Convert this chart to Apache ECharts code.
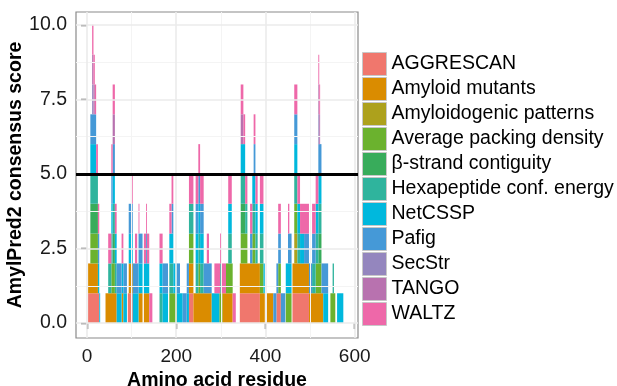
<!DOCTYPE html>
<html><head><meta charset="utf-8">
<script src="https://cdn.jsdelivr.net/npm/echarts@6/dist/echarts.min.js"></script>
<style>html,body{margin:0;padding:0;background:#fff}#c{width:617px;height:386px}</style>
</head><body><div id="c"></div>
<script>
// Predictor names (stack order bottom -> top)
const predictors = ["AGGRESCAN","Amyloid mutants","Amyloidogenic patterns","Average packing density","\u03b2-strand contiguity","Hexapeptide conf. energy","NetCSSP","Pafig","SecStr","TANGO","WALTZ"];
const colors = ["#F0776D","#DA8C00","#ADA11C","#6BB22E","#38AC5B","#2FB49D","#00B8DD","#4599D7","#9486BE","#B872AF","#EE68A9"];
// Residue ranges [start, end) predicted amyloidogenic by each method
const AGGRESCAN = [[3,28],[92,103],[229,239],[343,388],[425,435],[461,498]];
const AMYLOID_MUTANTS = [[3,25],[42,67],[78,82],[94,103],[116,125],[128,140],[229,280],[304,327],[343,399],[404,418],[461,530]];
const AMYLOIDOGENIC_PATTERNS = [[465,472]];
const AVG_PACKING = [[8,25],[55,63],[185,202],[229,239],[250,254],[297,304],[312,327],[345,360],[371,378],[388,396],[429,435],[446,459],[465,472],[513,526],[546,557]];
const BETA_STRAND = [[8,25],[58,63],[345,355],[519,526]];
const HEXAPEPTIDE = [[8,25],[48,67],[163,170],[185,194],[229,239],[244,262],[299,301],[317,325],[345,360],[371,383],[388,396],[465,478],[505,526],[551,554]];
const NETCSSP = [[8,21],[25,30],[55,90],[94,125],[128,140],[163,182],[185,215],[224,229],[244,262],[280,297],[317,325],[345,355],[371,383],[388,399],[446,459],[465,487],[513,526],[530,541],[561,575]];
const PAFIG = [[8,21],[25,28],[55,63],[67,78],[82,90],[94,125],[133,135],[170,182],[190,194],[202,209],[215,229],[244,280],[366,371],[374,378],[418,445],[451,459],[465,472],[487,513],[519,541]];
const SECSTR = [[12,15],[519,521]];
const TANGO = [[12,18],[58,63],[345,351],[519,523]];
const WALTZ = [[12,28],[48,67],[78,82],[99,103],[108,113],[116,118],[128,147],[163,170],[185,194],[229,239],[244,262],[269,274],[286,312],[317,325],[327,334],[345,360],[366,371],[374,383],[388,396],[429,435],[451,454],[465,498],[505,523]];
const ranges = [AGGRESCAN,AMYLOID_MUTANTS,AMYLOIDOGENIC_PATTERNS,AVG_PACKING,BETA_STRAND,HEXAPEPTIDE,NETCSSP,PAFIG,SECSTR,TANGO,WALTZ];
const yTicks = [0, 2.5, 5, 7.5, 10];
const yMinor = [1.25, 3.75, 6.25, 8.75];
const xTicks = [0, 200, 400, 600];
const xMinor = [100, 300, 500];
const threshold = 5;

// per-residue indicator and stacking
const N = 601;
const active = ranges.map(rs => { const a = new Array(N).fill(0); rs.forEach(([s,e]) => { for (let r=s; r<e; r++) a[r]=1; }); return a; });
const base = ranges.map(() => new Array(N).fill(0));
for (let r=0; r<N; r++) { let c=0; for (let k=0;k<ranges.length;k++){ base[k][r]=c; c+=active[k][r]; } }
const seriesData = ranges.map((_,k) => {
  const out=[]; let r=0;
  while (r<N) {
    if (!active[k][r]) { r++; continue; }
    const b=base[k][r]; let e=r;
    while (e+1<N && active[k][e+1] && base[k][e+1]===b) e++;
    out.push([r-0.5, e+0.5, b, b+1]);
    r=e+1;
  }
  return out;
});

const font = "'Liberation Sans', Arial, Helvetica, sans-serif";
const chart = echarts.init(document.getElementById('c'), null, {renderer:'canvas'});
const gridLine = (vals, axis, color, w) => vals.map(v => ({[axis]: v, lineStyle:{color, width:w, type:'solid'}}));
const series = predictors.map((name,k) => ({
  name, type:'custom', z: 3,
  itemStyle:{color: colors[k]},
  encode:{x:[0,1], y:[2,3]},
  renderItem(params, api){
    const p0 = api.coord([api.value(0), api.value(3)]);
    const p1 = api.coord([api.value(1), api.value(2)]);
    return {type:'rect', shape:{x:p0[0], y:p0[1], width:p1[0]-p0[0], height:p1[1]-p0[1]}, style: api.style()};
  },
  data: seriesData[k]
}));
series.unshift({
  name:'grid', type:'line', data:[], z:1, silent:true,
  markLine:{silent:true, symbol:'none', label:{show:false}, animation:false,
    data:[...gridLine(yMinor,'yAxis','#F4F4F4',1), ...gridLine(xMinor,'xAxis','#F4F4F4',1),
          ...gridLine(yTicks,'yAxis','#EBEBEB',1.6), ...gridLine(xTicks,'xAxis','#EBEBEB',1.6)]}
});
series.push({
  name:'threshold', type:'line', data:[], z:10, silent:true,
  markLine:{silent:true, symbol:'none', label:{show:false}, animation:false,
    data:[{yAxis: threshold, lineStyle:{color:'#000', width:2.8, type:'solid'}}]}
});

chart.setOption({
  animation:false,
  backgroundColor:'#fff',
  grid:{left:76, right:259, top:12, bottom:48, outerBoundsMode:'none', containLabel:false,
    show:true, borderColor:'#8a8a8a', borderWidth:1.2, backgroundColor:'transparent'},
  xAxis:{type:'value', min:-24.65, max:607.4,
    axisLine:{show:false}, splitLine:{show:false},
    axisTick:{show:true, length:6, customValues: xTicks, lineStyle:{color:'#333', width:1.4}},
    axisLabel:{customValues: xTicks, fontSize:19, color:'#1a1a1a', fontFamily:font, margin:9},
    name:'Amino acid residue', nameLocation:'middle', nameGap:31,
    nameTextStyle:{fontSize:19.5, fontWeight:'bold', color:'#000', fontFamily:font}
  },
  yAxis:{type:'value', min:-0.5, max:10.43,
    axisLine:{show:false}, splitLine:{show:false},
    axisTick:{show:true, length:6, customValues: yTicks, lineStyle:{color:'#333', width:1.4}},
    axisLabel:{customValues: yTicks, fontSize:19.5, color:'#1a1a1a', fontFamily:font, margin:9,
      formatter: v => v.toFixed(1)},
    name:'AmylPred2 consensus score', nameLocation:'middle', nameGap:49,
    nameTextStyle:{fontSize:19.5, fontWeight:'bold', color:'#000', fontFamily:font}
  },
  legend:{data: predictors, orient:'vertical', left:362, top:52, itemWidth:24, itemHeight:23, itemGap:1,
    icon:'rect', padding:0, selectedMode:false,
    itemStyle:{borderColor:'#c8c8c8', borderWidth:1},
    textStyle:{fontSize:19.5, color:'#000', fontFamily:font}},
  series
});
</script></body></html>
